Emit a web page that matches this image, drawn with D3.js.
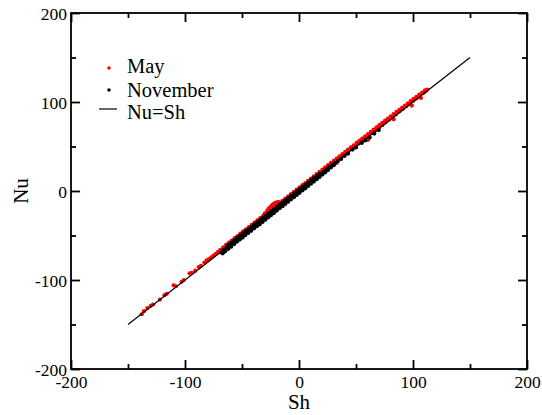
<!DOCTYPE html>
<html>
<head>
<meta charset="utf-8">
<script src="https://cdn.jsdelivr.net/npm/d3@7"></script>
<style>
  html, body { margin: 0; padding: 0; background: #fff; }
  svg { display: block; }
  text { font-family: "Liberation Serif", "Times New Roman", serif; fill: #000; }
</style>
</head>
<body>
<svg id="chart" width="542" height="415"></svg>
<script>
// ---- data ----
const xDomain = [-200, 200];
const yDomain = [-200, 200];
const majorTicks = [-200, -100, 0, 100, 200];
const minorTicks = [-150, -50, 50, 150];
const legendLabels = ["May", "November", "Nu=Sh"];
const xLabel = "Sh";
const yLabel = "Nu";
const identityLine = [[-150, -150], [150, 150]];

const mayPoints = [
  [-138,-138.5],[-136,-135],[-133,-131.5],[-130,-129],[-128,-127.5],[-122,-122],[-118,-117],[-116,-115.5],
  [-110,-106],[-108,-107],[-103,-102],[-101,-100],[-96,-92.5],[-94,-92],[-91,-89.5],[-88,-85.5],[-86,-84],
  [-83,-80.5],[-81,-78],[-79,-76.5],[-77,-74.5],[-75,-72.5],[-73,-70.5],[-71,-68.5],
  [-69,-66],[-66.5,-63.2],[-64,-60.5],[-61.5,-58],[-59,-55.6],[-56.5,-53],[-54,-50.6],[-51.5,-48],[-49,-45.4],
  [-46.5,-43],[-44,-40.6],[-41.5,-38],[-39,-35.5],[-36.5,-33],[-34,-30.4],[-31.5,-28],
  [-30,-25],[-28,-22.5],[-27,-20.5],[-26,-19],[-25,-18.5],[-24,-16.5],[-23,-15.5],[-22,-14.5],[-21,-13.5],
  [-20,-13],[-19,-12.8],[-18,-12.5],[-26.5,-22],[-24.5,-20],[-22.5,-18],[-20.5,-16],[-18.5,-14.5],[-17,-13],
  [-14.5,-11],[-12,-8.5],[-9.5,-6],[-7,-3.5],[-4.5,-1],[-2,1.5],[0.5,4],[3,6.5],[5.5,9],[8,11.4],[10.5,14],
  [13,16.5],[15.5,19],[18,21.4],[20.5,24],[23,26.5],[25.5,29],[28,31.5],[30.5,34],[33,36.5],[35.5,39],
  [38,41.4],[40.5,44],[43,46.5],[45.5,49],[48,51.4],[50.5,54],[53,56.5],[55.5,59],[58,61.4],[60.5,64],
  [63,66.5],[65.5,69],[68,71.4],[70.5,74],[73,76.5],[75.5,79],[78,81.4],[80.5,84],[83,86.3],[85.5,88.8],
  [88,91.2],[90.5,93.7],[93,96],[95.5,98.5],[98,101],[100.5,103.4],[103,105.8],[105.5,108.2],[108,110.6],
  [110.5,113],[112.5,114],
  [31,32],[34,35.2],[37,38],[40,41.2],[43,44],[46,47.2],[49,50],[52,53.2],[55,56],[58,59.2],[61,62],
  [64,65.2],[67,68],[70,71.2],[73,74],[76,77.2],[79,80],[82,83.2],[85,86],[88,89.2],[91,92],[94,95.2],
  [97,98],[100,101.2],[103,104],[106,107.2],[109,110],[111,112],
  [33,31.5],[60.5,57.5],[83,80.5],[99,96],[107,104.5]
];

const novemberPoints = [
  [-68,-69],[-66,-68.5],
  [-67,-70],[-64.5,-67.5],[-62,-65],[-59.5,-62.5],[-57,-59.8],[-54.5,-57],[-52,-54.6],[-49.5,-52.3],
  [-47,-49.5],[-44.5,-47.2],[-42,-44.8],[-39.5,-42],[-37,-39.6],[-34.5,-37.4],[-32,-34.7],[-29.5,-32.2],
  [-27,-29.6],[-24.5,-27],[-22,-24.8],[-19.5,-22],[-17,-19.4],[-14.5,-17.1],[-12,-14.5],[-9.5,-12],
  [-7,-9.4],[-4.5,-7],[-2,-4.5],[0.5,-2],[3,0.6],[5.5,3],[8,5.6],[10.5,8.2],[13,10.6],[15.5,13.2],
  [18,15.8],[20.5,18.4],[23,21],[25.5,23.6],[28,26.4],[30.5,29],
  [-66,-66],[-63.5,-63.3],[-61,-60.8],[-58.5,-58.4],[-56,-55.7],[-53.5,-53.4],[-51,-50.8],[-48.5,-48.2],
  [-46,-45.9],[-43.5,-43.2],[-41,-40.8],[-38.5,-38.4],[-36,-35.7],[-33.5,-33.3],[-31,-30.8],[-28.5,-28.4],
  [-26,-25.7],[-23.5,-23.2],[-21,-20.8],[-18.5,-18.4],[-16,-15.7],[-13.5,-13.3],[-11,-10.8],[-8.5,-8.4],
  [-6,-5.7],[-3.5,-3.3],[-1,-0.8],[1.5,1.6],[4,4.3],[6.5,6.6],[9,9.2],[11.5,11.6],[14,14.3],[16.5,16.6],
  [19,19.2],[21.5,21.6],[24,24.2],[26.5,26.6],[29,29.2],[31.5,31.6],
  [-62,-60.5],[-59.5,-58],[-57,-55.4],[-54.5,-53],[-52,-50.5],[-49.5,-48],[-47,-45.4],[-44.5,-43],
  [-42,-40.5],[-39.5,-38],[-37,-35.4],[-34.5,-33],[-32,-30.5],[-29.5,-28],[-27,-25.4],[-24.5,-23],
  [-22,-20.5],[-19.5,-18],[-17,-15.4],[-14.5,-13],[-12,-10.5],[-9.5,-8],[-7,-5.4],[-4.5,-3],[-2,-0.5],
  [0.5,2],[3,4.6],[5.5,7],[8,9.5],[10.5,12],[13,14.6],[15.5,17],[18,19.4],
  [34,33.5],[37,36],[40,39.5],[43,42],[47,46.5],[50,49],[55,54],[58,56.8],[62,60],[66,64.5],[70,68.5]
];

// ---- layout ----
const padL = 71, padR = 527, padT = 13, padB = 369;
const svg = d3.select("#chart");
const x = d3.scaleLinear().domain(xDomain).range([padL, padR]);
const y = d3.scaleLinear().domain(yDomain).range([padB, padT]);
const fmt = d => String(d);

function styleAxis(g, noLabels) {
  g.select(".domain").remove();
  g.selectAll(".tick line").attr("stroke", "#000").attr("stroke-width", 1.8);
  if (noLabels) g.selectAll(".tick text").remove();
}

// bottom axis
const gB = svg.append("g").attr("transform", `translate(0,${padB})`)
  .call(d3.axisBottom(x).tickValues(majorTicks).tickSize(-9).tickFormat(fmt));
styleAxis(gB, false);
gB.selectAll(".tick text").attr("y", 19).attr("dy", null)
  .style("font-size", "17.5px").style("font-family", "Liberation Serif, serif");
const gBm = svg.append("g").attr("transform", `translate(0,${padB})`)
  .call(d3.axisBottom(x).tickValues(minorTicks).tickSize(-5));
styleAxis(gBm, true);

// top axis
const gT = svg.append("g").attr("transform", `translate(0,${padT})`)
  .call(d3.axisTop(x).tickValues(majorTicks).tickSize(-9));
styleAxis(gT, true);
const gTm = svg.append("g").attr("transform", `translate(0,${padT})`)
  .call(d3.axisTop(x).tickValues(minorTicks).tickSize(-5));
styleAxis(gTm, true);

// left axis
const gL = svg.append("g").attr("transform", `translate(${padL},0)`)
  .call(d3.axisLeft(y).tickValues(majorTicks).tickSize(-9).tickFormat(fmt));
styleAxis(gL, false);
gL.selectAll(".tick text").attr("x", -4).attr("y", 0.5)
  .style("font-size", "17.5px").style("font-family", "Liberation Serif, serif");
const gLm = svg.append("g").attr("transform", `translate(${padL},0)`)
  .call(d3.axisLeft(y).tickValues(minorTicks).tickSize(-5));
styleAxis(gLm, true);

// right axis
const gR = svg.append("g").attr("transform", `translate(${padR},0)`)
  .call(d3.axisRight(y).tickValues(majorTicks).tickSize(-9));
styleAxis(gR, true);
const gRm = svg.append("g").attr("transform", `translate(${padR},0)`)
  .call(d3.axisRight(y).tickValues(minorTicks).tickSize(-5));
styleAxis(gRm, true);

// frame
svg.append("rect")
  .attr("x", x(xDomain[0])).attr("y", y(yDomain[1]))
  .attr("width", x(xDomain[1]) - x(xDomain[0]))
  .attr("height", y(yDomain[0]) - y(yDomain[1]))
  .attr("fill", "none").attr("stroke", "#000").attr("stroke-width", 1.8);

// points
svg.append("g").selectAll("circle").data(mayPoints).join("circle")
  .attr("cx", d => x(d[0])).attr("cy", d => y(d[1])).attr("r", 2.1).attr("fill", "#ff0000");
svg.append("g").selectAll("circle").data(novemberPoints).join("circle")
  .attr("cx", d => x(d[0])).attr("cy", d => y(d[1])).attr("r", 2.1).attr("fill", "#000");

// identity line
svg.append("path")
  .attr("d", d3.line().x(d => x(d[0])).y(d => y(d[1]))(identityLine))
  .attr("stroke", "#000").attr("stroke-width", 1.2).attr("fill", "none");

// axis titles
svg.append("text").attr("x", x(0)).attr("y", 409).attr("text-anchor", "middle")
  .style("font-size", "21px").text(xLabel);
svg.append("text").attr("transform", `translate(28,${y(0)}) rotate(-90)`).attr("text-anchor", "middle")
  .style("font-size", "21px").text(yLabel);

// legend
const lg = svg.append("g");
lg.append("circle").attr("cx", 109).attr("cy", 68).attr("r", 1.8).attr("fill", "#ff0000");
lg.append("circle").attr("cx", 109).attr("cy", 90).attr("r", 1.8).attr("fill", "#000");
lg.append("line").attr("x1", 99).attr("x2", 117).attr("y1", 109).attr("y2", 109)
  .attr("stroke", "#000").attr("stroke-width", 1.2);
[73, 96.5, 118.5].forEach((by, i) => {
  lg.append("text").attr("x", 127).attr("y", by).style("font-size", "20.5px").text(legendLabels[i]);
});
</script>
</body>
</html>
